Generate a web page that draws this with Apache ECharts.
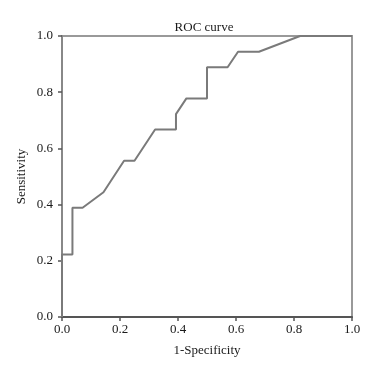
<!DOCTYPE html>
<html><head><meta charset="utf-8">
<script src="https://cdn.jsdelivr.net/npm/echarts@6/dist/echarts.min.js"></script>
<style>html,body{margin:0;padding:0;background:#fff}#c{width:380px;height:366px}</style>
</head><body><div id="c"></div>
<script>
const fpr = [0, 0, 0.036, 0.036, 0.071, 0.143, 0.214, 0.25, 0.321, 0.393, 0.393, 0.429, 0.5, 0.5, 0.571, 0.607, 0.679, 0.821, 1.0];
const tpr = [0, 0.222, 0.222, 0.389, 0.389, 0.444, 0.556, 0.556, 0.667, 0.667, 0.722, 0.778, 0.778, 0.889, 0.889, 0.944, 0.944, 1.0, 1.0];
const ticks = [0, 0.2, 0.4, 0.6, 0.8, 1.0];
const FONT = 'Liberation Serif';
const chart = echarts.init(document.getElementById('c'));
const axisCommon = {
  type: 'value', min: 0, max: 1, interval: 0.2,
  splitLine: { show: false },
  axisTick: { show: true, length: 4, lineStyle: { color: '#555', width: 1.5 } },
  axisLabel: { color: '#1a1a1a', fontFamily: FONT, fontSize: 13, formatter: v => v.toFixed(1) },
  nameTextStyle: { color: '#1a1a1a', fontFamily: FONT, fontSize: 13 }
};
chart.setOption({
  animation: false,
  title: { text: 'ROC curve', left: 199, top: 16, textAlign: 'center',
    textStyle: { fontFamily: FONT, fontSize: 13, fontWeight: 'normal', color: '#1a1a1a' } },
  grid: { left: 62, right: 28, top: 36, bottom: 49, show: true, borderColor: '#999', borderWidth: 2, backgroundColor: 'transparent' },
  xAxis: Object.assign({}, axisCommon, {
    name: '1-Specificity', nameLocation: 'middle', nameGap: 27, nameMoveOverlap: false,
    axisLine: { lineStyle: { color: '#555', width: 2 } },
    axisLabel: Object.assign({}, axisCommon.axisLabel, { margin: 6 })
  }),
  yAxis: Object.assign({}, axisCommon, {
    name: 'Sensitivity', nameLocation: 'middle', nameGap: 34, nameRotate: 90, nameMoveOverlap: false,
    axisLine: { lineStyle: { color: '#888', width: 2 } },
    axisLabel: Object.assign({}, axisCommon.axisLabel, { margin: 9 })
  }),
  series: [{
    type: 'line', showSymbol: false, symbol: 'none',
    data: fpr.map((x, i) => [x, tpr[i]]),
    lineStyle: { color: '#7a7a7a', width: 2 },
    z: 3
  }]
});
</script></body></html>
